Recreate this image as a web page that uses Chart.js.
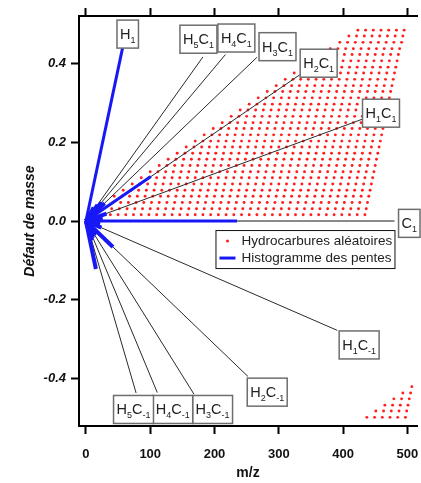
<!DOCTYPE html>
<html>
<head>
<meta charset="utf-8">
<script src="https://cdn.jsdelivr.net/npm/chart.js@4.4.0/dist/chart.umd.min.js"></script>
<style>
  html, body { margin: 0; padding: 0; background: #fff; }
  #wrap { width: 421px; height: 483px; }
</style>
</head>
<body>
<div id="wrap"><canvas id="chart" width="421" height="483"></canvas></div>
<script>
// ── Data ─────────────────────────────────────────────────────────────────────
const xTicks = [0, 100, 200, 300, 400, 500];
const yTicks = [-0.4, -0.2, 0, 0.2, 0.4];
const yTickLabels = ['-0.4', '-0.2', '0.0', '0.2', '0.4'];

// black slope lines, from the origin to each end point
const slopeNames     = ['H5C1', 'H4C1', 'H3C1', 'H2C1', 'H1C1', 'H1C-1', 'H2C-1', 'H3C-1', 'H4C-1', 'H5C-1'];
const slopeEndMz     = [182, 217, 266, 334, 432, 391, 252, 168, 111, 78];
const slopeEndDefect = [0.417, 0.423, 0.416, 0.373, 0.260, -0.278, -0.395, -0.440, -0.436, -0.437];

// grey C1 line (defect 0)
const c1EndMz = 480;

// blue slope histogram, one segment per slope
const histEndMz     = [57, 101, 235, 29, 24, 18, 32, 42, 15.5, 24, 14, 11, 9, 20, 26, 22, 12, 17];
const histEndDefect = [0.440, 0.113, 0, 0.045, 0.047, 0.041, 0.019, -0.066, -0.122, -0.017, -0.037, -0.043, -0.050,
                       0.027, 0.008, -0.008, 0.034, -0.030];

// random hydrocarbons: rows of dots (defect of the row, first m/z, number of dots)
const dotStep = 12;
const dotRowDefect = [0.016, 0.031, 0.047, 0.063, 0.078, 0.094, 0.110, 0.125, 0.141, 0.157,
                      0.172, 0.188, 0.203, 0.219, 0.235, 0.250, 0.266, 0.282, 0.297, 0.313,
                      0.329, 0.344, 0.360, 0.376, 0.391, 0.407, 0.423, 0.438, 0.454, 0.470,
                      0.485, -0.499, -0.483, -0.468, -0.452, -0.437, -0.421];
const dotRowFirstMz = [38, 40, 42, 44, 58, 72, 86, 100, 114, 128,
                       142, 156, 170, 184, 198, 212, 226, 240, 254, 268,
                       282, 296, 310, 324, 338, 352, 366, 380, 395, 409,
                       423, 437, 451, 465, 479, 493, 507];
const dotRowCount = [34, 34, 34, 34, 33, 32, 31, 30, 29, 28,
                     27, 26, 25, 24, 23, 22, 21, 20, 19, 18,
                     17, 16, 15, 14, 13, 12, 11, 10, 9, 8,
                     7, 6, 5, 4, 3, 2, 1];

// ── Label boxes (annotation placement, in axis units) ────────────────────────
const labelNames  = ['H1', 'H5C1', 'H4C1', 'H3C1', 'H2C1', 'H1C1', 'C1', 'H1C-1', 'H2C-1', 'H3C-1', 'H4C-1', 'H5C-1'];
const labelMz     = [65, 175, 234, 298, 362, 459, 503, 425, 282, 197, 135, 74];
const labelDefect = [0.475, 0.462, 0.465, 0.443, 0.401, 0.274, -0.006, -0.315, -0.435, -0.479, -0.479, -0.479];

const FONT = "'Liberation Sans', Arial, sans-serif";

// ── Datasets ─────────────────────────────────────────────────────────────────
const dots = [];
dotRowDefect.forEach((d, r) => {
  for (let k = 0; k < dotRowCount[r]; k++) dots.push({ x: dotRowFirstMz[r] + k * dotStep, y: d });
});

const lineDefaults = { showLine: true, pointRadius: 0, fill: false, tension: 0 };
const datasets = [];

histEndMz.forEach((m, i) => datasets.push({
  ...lineDefaults, label: 'hist', data: [{ x: 0, y: 0 }, { x: m, y: histEndDefect[i] }],
  borderColor: '#1818f4', borderWidth: i < 3 ? 3 : 4, order: 1,
}));

datasets.push({
  ...lineDefaults, label: 'C1', data: [{ x: 0, y: 0 }, { x: c1EndMz, y: 0 }],
  borderColor: '#8a8a8a', borderWidth: 2, order: 2,
});

slopeEndMz.forEach((m, i) => datasets.push({
  ...lineDefaults, label: slopeNames[i], data: [{ x: 0, y: 0 }, { x: m, y: slopeEndDefect[i] }],
  borderColor: '#2a2a2a', borderWidth: 1, order: 3,
}));

datasets.push({
  label: 'Hydrocarbures aléatoires', data: dots,
  pointRadius: 1.45, pointBackgroundColor: '#ff1e1e', pointBorderWidth: 0, showLine: false, order: 4,
});

// ── Label boxes & legend ─────────────────────────────────────────────────────
function parseFormula(name) {
  return [...name.matchAll(/([A-Z])(-?\d+)/g)].map(m => [m[1], m[2]]);
}

function drawBox(ctx, name, cx, cy) {
  const parts = parseFormula(name);
  const mainFont = `14.5px ${FONT}`, subFont = `9px ${FONT}`;
  let w = 0;
  parts.forEach(([a, s]) => {
    ctx.font = mainFont; w += ctx.measureText(a).width;
    ctx.font = subFont;  w += ctx.measureText(s).width;
  });
  const bw = w + 6, bh = 28;
  const left = cx - bw / 2, top = cy - bh / 2;
  ctx.fillStyle = '#fff';
  ctx.fillRect(left, top, bw, bh);
  ctx.strokeStyle = '#6e6e6e';
  ctx.lineWidth = 1.5;
  ctx.strokeRect(left, top, bw, bh);
  ctx.fillStyle = '#222';
  ctx.textBaseline = 'alphabetic';
  ctx.textAlign = 'left';
  let x = left + 3;
  parts.forEach(([a, s]) => {
    ctx.font = mainFont; ctx.fillText(a, x, cy + 5); x += ctx.measureText(a).width;
    ctx.font = subFont;  ctx.fillText(s, x, cy + 9); x += ctx.measureText(s).width;
  });
}

function drawLegend(ctx, xs, ys) {
  const left = xs.getPixelForValue(201.5), top = ys.getPixelForValue(-0.023);
  const w = 179, h = 38;
  ctx.fillStyle = '#fff';
  ctx.fillRect(left, top, w, h);
  ctx.strokeStyle = '#111';
  ctx.lineWidth = 1;
  ctx.strokeRect(left + 0.5, top + 0.5, w, h);

  ctx.fillStyle = '#ff1e1e';
  ctx.beginPath();
  ctx.arc(left + 12, top + 11, 1.5, 0, Math.PI * 2);
  ctx.fill();

  ctx.strokeStyle = '#1818f4';
  ctx.lineWidth = 3;
  ctx.beginPath();
  ctx.moveTo(left + 4, top + 28);
  ctx.lineTo(left + 20, top + 28);
  ctx.stroke();

  ctx.fillStyle = '#222';
  ctx.font = `13.5px ${FONT}`;
  ctx.textBaseline = 'middle';
  ctx.textAlign = 'left';
  ctx.fillText('Hydrocarbures aléatoires', left + 26, top + 11);
  ctx.fillText('Histogramme des pentes', left + 26, top + 28);
}

const overlay = {
  id: 'overlay',
  afterDatasetsDraw(chart) {
    const { ctx, scales: { x, y } } = chart;
    ctx.save();
    labelNames.forEach((n, i) => drawBox(ctx, n, x.getPixelForValue(labelMz[i]), y.getPixelForValue(labelDefect[i])));
    drawLegend(ctx, x, y);
    ctx.restore();
  }
};

// ── Axes ─────────────────────────────────────────────────────────────────────
const axisGrid = { drawOnChartArea: false, drawTicks: true, tickLength: 8, tickWidth: 2, color: '#000' };
const axisBorder = { display: true, color: '#000', width: 2 };
const X_MIN = -10.8, X_MAX = 515;

new Chart(document.getElementById('chart'), {
  type: 'scatter',
  data: { datasets },
  options: {
    responsive: false,
    animation: false,
    events: [],
    layout: { padding: 0 },
    plugins: { legend: { display: false }, tooltip: { enabled: false } },
    scales: {
      x: {
        type: 'linear', position: 'bottom', min: X_MIN, max: X_MAX,
        afterBuildTicks: s => { s.ticks = xTicks.map(v => ({ value: v })); },
        afterFit: s => { s.height = 57; s.paddingLeft = 0; s.paddingRight = 0; },
        grid: axisGrid, border: axisBorder,
        ticks: { color: '#111', padding: 13, maxRotation: 0, font: { family: FONT, size: 13, weight: 'bold' } },
        title: { display: true, text: 'm/z', color: '#111', padding: { top: 0, bottom: 1 }, font: { family: FONT, size: 14, weight: 'bold' } },
      },
      xTop: {
        type: 'linear', position: 'top', min: X_MIN, max: X_MAX,
        afterBuildTicks: s => { s.ticks = xTicks.map(v => ({ value: v })); },
        afterFit: s => { s.height = 16; s.paddingLeft = 0; s.paddingRight = 0; },
        grid: axisGrid, border: axisBorder,
        ticks: { display: false },
      },
      y: {
        type: 'linear', position: 'left', min: -0.521, max: 0.521,
        afterBuildTicks: s => { s.ticks = yTicks.map(v => ({ value: v })); },
        afterFit: s => { s.width = 79; s.paddingTop = 0; s.paddingBottom = 0; },
        grid: axisGrid, border: axisBorder,
        ticks: {
          color: '#111', padding: 5,
          font: { family: FONT, size: 13, weight: 'bold', style: 'italic' },
          callback: v => yTickLabels[yTicks.findIndex(t => Math.abs(t - v) < 1e-9)] ?? '',
        },
        title: { display: true, text: 'Défaut de masse', color: '#111', padding: { top: 22, bottom: 0 }, font: { family: FONT, size: 14, weight: 'bold', style: 'italic' } },
      },
    },
  },
  plugins: [overlay],
});
</script>
</body>
</html>
